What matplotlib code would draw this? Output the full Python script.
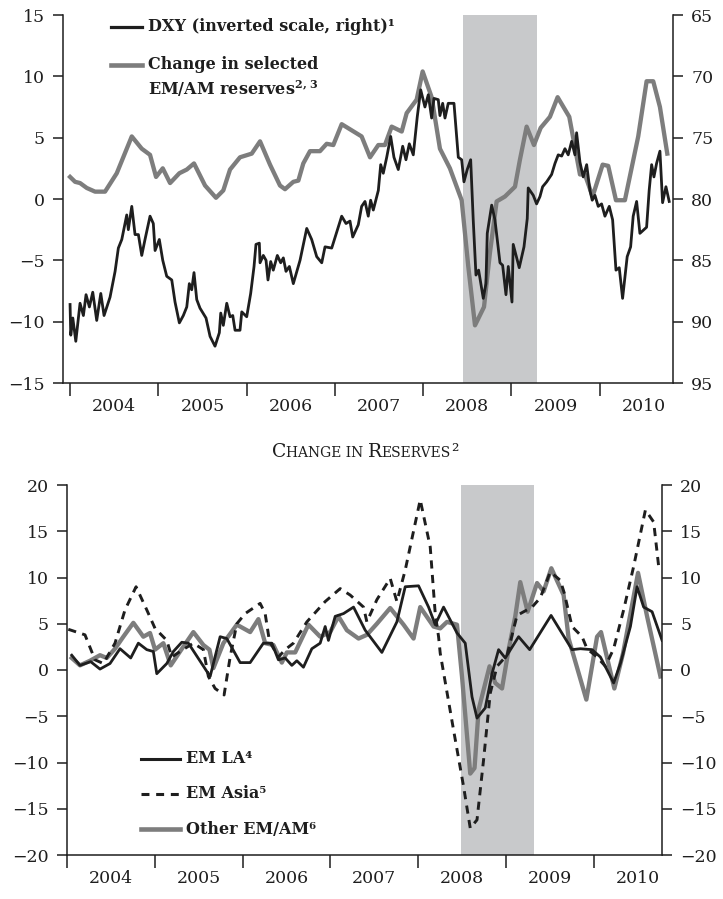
import numpy as np
import matplotlib
matplotlib.use("Agg")
import matplotlib.pyplot as plt
from matplotlib.lines import Line2D
from matplotlib.offsetbox import TextArea, HPacker, AnchoredOffsetbox

plt.rcParams['font.family'] = ['DejaVu Serif']
plt.rcParams['mathtext.fontset'] = 'dejavuserif'

INK = '#1e1e1e'
GREY = '#7d7d7d'
SHADE = '#c8c9cb'

# ---- top panel: DXY (weekly-ish) and change in selected EM/AM reserves
dxy_t = [2004.00, 2004.008, 2004.031, 2004.065, 2004.113, 2004.151, 2004.181, 2004.219,
         2004.257, 2004.302, 2004.348, 2004.385, 2004.453, 2004.510, 2004.547, 2004.586,
         2004.642, 2004.660, 2004.699, 2004.736, 2004.774, 2004.812, 2004.849, 2004.906,
         2004.943, 2004.963, 2005.011, 2005.050, 2005.095, 2005.152, 2005.189, 2005.238,
         2005.283, 2005.322, 2005.351, 2005.378, 2005.404, 2005.435, 2005.472, 2005.540,
         2005.586, 2005.642, 2005.691, 2005.707, 2005.736, 2005.775, 2005.812, 2005.843,
         2005.869, 2005.925, 2005.945, 2006.001, 2006.046, 2006.084, 2006.106, 2006.144,
         2006.152, 2006.189, 2006.220, 2006.242, 2006.273, 2006.302, 2006.348, 2006.386,
         2006.416, 2006.446, 2006.484, 2006.529, 2006.605, 2006.681, 2006.737, 2006.794,
         2006.851, 2006.888, 2006.964, 2007.020, 2007.077, 2007.126, 2007.171, 2007.202,
         2007.265, 2007.303, 2007.341, 2007.378, 2007.405, 2007.435, 2007.492, 2007.519,
         2007.548, 2007.587, 2007.632, 2007.669, 2007.718, 2007.768, 2007.805, 2007.843,
         2007.888, 2007.933, 2007.972, 2008.020, 2008.058, 2008.096, 2008.122, 2008.171,
         2008.190, 2008.221, 2008.247, 2008.284, 2008.349, 2008.398, 2008.436, 2008.462,
         2008.499, 2008.538, 2008.567, 2008.598, 2008.628, 2008.681, 2008.711, 2008.726,
         2008.776, 2008.813, 2008.870, 2008.900, 2008.938, 2008.964, 2009.006, 2009.020,
         2009.088, 2009.142, 2009.179, 2009.190, 2009.247, 2009.285, 2009.323, 2009.353,
         2009.399, 2009.455, 2009.493, 2009.530, 2009.569, 2009.606, 2009.643, 2009.682,
         2009.719, 2009.738, 2009.776, 2009.813, 2009.852, 2009.889, 2009.915, 2009.946,
         2009.983, 2010.021, 2010.059, 2010.108, 2010.146, 2010.184, 2010.221, 2010.259,
         2010.311, 2010.350, 2010.379, 2010.418, 2010.455, 2010.531, 2010.560, 2010.588,
         2010.614, 2010.644, 2010.682, 2010.712, 2010.750, 2010.787]
dxy = [88.6, 91.1, 89.7, 91.6, 88.5, 89.5, 87.8, 88.8,
       87.6, 89.9, 87.7, 89.5, 88.0, 85.9, 84.0, 83.3,
       81.3, 82.5, 80.6, 82.9, 82.9, 84.6, 83.3, 81.4,
       82.0, 84.2, 83.3, 85.0, 86.3, 86.6, 88.4, 90.1,
       89.5, 88.8, 86.9, 87.4, 86.0, 88.2, 88.9, 89.7,
       91.2, 92.0, 90.9, 89.3, 90.3, 88.5, 89.6, 89.5,
       90.7, 90.7, 89.2, 89.6, 87.7, 85.5, 83.7, 83.6,
       85.2, 84.6, 85.0, 86.6, 85.1, 85.8, 84.6, 85.2,
       84.8, 85.9, 85.5, 86.9, 85.0, 82.4, 83.3, 84.7,
       85.2, 83.9, 84.0, 82.7, 81.4, 82.0, 81.8, 83.1,
       82.1, 80.6, 80.2, 81.4, 80.1, 80.9, 79.3, 77.2,
       77.9, 76.6, 74.9, 76.6, 77.6, 75.7, 76.8, 75.5,
       76.4, 73.3, 71.1, 72.5, 71.5, 73.4, 71.8, 71.9,
       73.2, 72.2, 73.4, 72.2, 72.2, 76.6, 76.8, 78.6,
       77.6, 76.8, 81.7, 86.2, 85.8, 88.1, 86.9, 82.8,
       80.5, 81.7, 85.2, 85.4, 87.8, 85.5, 88.4, 83.7,
       85.6, 83.9, 81.6, 79.1, 79.7, 80.4, 79.8, 79.0,
       78.6, 78.0, 77.1, 76.4, 76.5, 75.9, 76.4, 75.3,
       76.4, 74.6, 77.0, 78.2, 77.2, 79.3, 80.1, 79.7,
       80.6, 80.4, 81.4, 80.6, 81.7, 85.8, 85.6, 88.1,
       84.7, 83.9, 81.4, 80.2, 82.8, 82.3, 79.3, 77.2,
       78.2, 77.1, 76.1, 80.3, 79.0, 80.2]

res_t = [2004.00, 2004.057, 2004.113, 2004.189, 2004.283, 2004.396, 2004.529, 2004.699,
         2004.812, 2004.906, 2004.974, 2005.050, 2005.133, 2005.238, 2005.322, 2005.404,
         2005.529, 2005.653, 2005.736, 2005.812, 2005.925, 2006.058, 2006.152, 2006.265,
         2006.378, 2006.435, 2006.529, 2006.586, 2006.642, 2006.718, 2006.831, 2006.907,
         2006.982, 2007.077, 2007.190, 2007.303, 2007.398, 2007.492, 2007.567, 2007.643,
         2007.757, 2007.813, 2007.926, 2007.994, 2008.096, 2008.190, 2008.303, 2008.436,
         2008.511, 2008.587, 2008.689, 2008.756, 2008.832, 2008.926, 2009.040, 2009.096,
         2009.172, 2009.255, 2009.331, 2009.436, 2009.523, 2009.655, 2009.776, 2009.832,
         2009.919, 2010.033, 2010.096, 2010.184, 2010.285, 2010.436, 2010.531, 2010.606,
         2010.682, 2010.765]
res_chg = [1.8, 1.4, 1.3, 0.9, 0.6, 0.6, 2.1, 5.1,
           4.1, 3.6, 1.8, 2.5, 1.3, 2.1, 2.4, 2.9,
           1.1, 0.1, 0.7, 2.4, 3.4, 3.7, 4.7, 2.8,
           1.1, 0.8, 1.4, 1.5, 2.9, 3.9, 3.9, 4.5,
           4.4, 6.1, 5.6, 5.1, 3.4, 4.4, 4.4, 5.9,
           5.5, 7.0, 8.1, 10.4, 8.3, 4.1, 2.5, -0.1,
           -5.5, -10.3, -8.8, -4.4, -0.2, 0.2, 1.0, 3.2,
           5.9, 4.4, 5.8, 6.7, 8.3, 6.7, 2.0, 2.0,
           0.2, 2.8, 2.7, -0.1, -0.1, 5.1, 9.6, 9.6,
           7.5, 3.7]

# ---- bottom panel: change in reserves by region
la_t = [2004.054, 2004.148, 2004.270, 2004.376, 2004.490, 2004.604, 2004.726, 2004.813,
        2004.909, 2004.984, 2005.023, 2005.137, 2005.212, 2005.308, 2005.383, 2005.631,
        2005.745, 2005.821, 2005.973, 2006.087, 2006.238, 2006.334, 2006.409, 2006.486,
        2006.562, 2006.619, 2006.694, 2006.790, 2006.885, 2006.942, 2006.979, 2007.056,
        2007.151, 2007.265, 2007.398, 2007.588, 2007.759, 2007.854, 2008.006, 2008.120,
        2008.196, 2008.291, 2008.444, 2008.538, 2008.615, 2008.672, 2008.766, 2008.843,
        2008.918, 2008.994, 2009.146, 2009.272, 2009.516, 2009.755, 2009.850, 2009.983,
        2010.078, 2010.154, 2010.229, 2010.306, 2010.420, 2010.496, 2010.571, 2010.667,
        2010.781]
em_la = [1.6, 0.5, 0.9, 0.1, 0.7, 2.3, 1.3, 2.9,
         2.2, 2.0, -0.4, 0.7, 2.0, 3.0, 2.9, -0.7,
         3.6, 3.4, 0.8, 0.8, 2.9, 2.9, 1.1, 1.3,
         0.5, 1.0, 0.3, 2.3, 2.9, 4.7, 3.2, 5.8,
         6.1, 6.8, 4.3, 1.9, 5.2, 9.0, 9.1, 6.8,
         4.9, 6.8, 4.0, 2.9, -2.9, -5.2, -4.1, -0.4,
         2.2, 1.3, 3.6, 2.2, 5.9, 2.2, 2.3, 2.2,
         1.4, 0.0, -1.4, 0.7, 4.7, 9.0, 6.8, 6.3,
         3.2]

asia_t = [2004.015, 2004.205, 2004.319, 2004.414, 2004.547, 2004.661, 2004.787, 2004.909,
          2005.003, 2005.137, 2005.194, 2005.288, 2005.440, 2005.554, 2005.611, 2005.688,
          2005.790, 2005.859, 2005.935, 2006.030, 2006.201, 2006.258, 2006.307, 2006.409,
          2006.486, 2006.580, 2006.733, 2006.942, 2007.113, 2007.227, 2007.379, 2007.417,
          2007.531, 2007.683, 2007.759, 2007.854, 2008.025, 2008.139, 2008.196, 2008.234,
          2008.253, 2008.405, 2008.519, 2008.595, 2008.672, 2008.747, 2008.823, 2008.900,
          2009.014, 2009.128, 2009.299, 2009.393, 2009.507, 2009.621, 2009.667, 2009.755,
          2009.869, 2009.926, 2010.040, 2010.135, 2010.229, 2010.343, 2010.457, 2010.591,
          2010.685, 2010.742]
em_asia = [4.4, 3.8, 1.1, 0.7, 2.9, 6.5, 9.0, 6.5,
           4.5, 3.2, 1.4, 2.0, 2.9, 2.2, -0.7, -2.0,
           -2.7, 1.4, 5.0, 6.1, 7.2, 6.1, 3.1, 1.4,
           2.2, 2.9, 5.2, 7.4, 8.8, 8.1, 6.8, 5.2,
           7.6, 9.9, 7.4, 10.8, 18.4, 13.3, 6.1, 3.6,
           1.8, -6.5, -12.6, -17.1, -16.2, -9.7, -2.5, 0.4,
           1.6, 5.9, 6.8, 7.8, 10.6, 9.7, 8.3, 4.7,
           3.6, 2.3, 1.4, 0.4, 2.3, 6.5, 11.2, 17.3,
           16.0, 11.2]

oth_t = [2004.054, 2004.148, 2004.262, 2004.376, 2004.453, 2004.547, 2004.642, 2004.756,
         2004.870, 2004.946, 2005.003, 2005.098, 2005.182, 2005.288, 2005.440, 2005.554,
         2005.623, 2005.668, 2005.782, 2005.935, 2006.087, 2006.181, 2006.258, 2006.352,
         2006.448, 2006.505, 2006.600, 2006.751, 2006.885, 2006.999, 2007.093, 2007.189,
         2007.322, 2007.417, 2007.531, 2007.683, 2007.835, 2007.949, 2008.025, 2008.177,
         2008.253, 2008.330, 2008.444, 2008.501, 2008.595, 2008.644, 2008.690, 2008.815,
         2008.880, 2008.957, 2009.032, 2009.108, 2009.165, 2009.249, 2009.356, 2009.431,
         2009.519, 2009.659, 2009.716, 2009.918, 2010.040, 2010.085, 2010.237, 2010.336,
         2010.507, 2010.610, 2010.762]
other_em = [1.3, 0.5, 1.0, 1.6, 1.3, 2.3, 3.6, 5.1,
            3.6, 4.0, 2.2, 2.9, 0.5, 2.0, 4.1, 2.7,
            2.2, 0.2, 2.9, 4.9, 4.1, 5.5, 2.9, 2.7,
            0.8, 1.9, 1.9, 4.9, 3.6, 4.1, 5.8, 4.3,
            3.4, 3.8, 5.0, 6.7, 4.9, 3.4, 6.8, 4.7,
            4.5, 5.2, 4.9, -0.7, -11.2, -10.6, -4.3, 0.4,
            -1.4, -2.0, 2.2, 5.8, 9.5, 6.3, 9.4, 8.5,
            11.0, 8.1, 3.4, -3.2, 3.6, 4.1, -2.0, 1.8,
            10.5, 5.8, -0.7]

years = [2004, 2005, 2006, 2007, 2008, 2009, 2010]
shade_top = (2008.45, 2009.29)
shade_bot = (2008.49, 2009.32)


def style_axes(ax, xlim, ylim, yticks):
    ax.set_xlim(*xlim)
    ax.set_ylim(*ylim)
    ax.spines['top'].set_visible(False)
    for s in ('left', 'right', 'bottom'):
        ax.spines[s].set_linewidth(1.1)
        ax.spines[s].set_color(INK)
    ax.set_xticks([y for y in years if xlim[0] <= y <= xlim[1]])
    ax.set_xticklabels([])
    ax.set_xticks([y + 0.5 for y in years], minor=True)
    ax.set_xticklabels([str(y) for y in years], minor=True)
    ax.tick_params(axis='x', which='major', length=9, width=1.1, color=INK, direction='out')
    ax.tick_params(axis='x', which='minor', length=0, pad=11, labelsize=12.5, labelcolor=INK)
    ax.set_yticks(yticks)
    ax.tick_params(axis='y', length=7, width=1.1, color=INK, pad=6, labelsize=12.5, labelcolor=INK)


fig = plt.figure(figsize=(7.23, 8.99), dpi=100)

# ---------------- top
ax1 = fig.add_axes([63 / 723, 1 - 383 / 899, 610 / 723, 368 / 899])
style_axes(ax1, (2003.92, 2010.83), (-15, 15), range(-15, 16, 5))
ax1.axvspan(*shade_top, color=SHADE, lw=0, zorder=0)
ax1.plot(res_t, res_chg, color=GREY, lw=3.1, zorder=2)

ax1r = ax1.twinx()
ax1r.set_ylim(95, 65)
ax1r.set_yticks(range(65, 96, 5))
ax1r.tick_params(axis='y', length=7, width=1.1, color=INK, pad=6, labelsize=12.5, labelcolor=INK)
for s in ax1r.spines.values():
    s.set_visible(False)
ax1r.plot(dxy_t, dxy, color=INK, lw=2.0, zorder=3)

# legend (top)
ax1.add_line(Line2D([0.078, 0.13], [0.968, 0.968], transform=ax1.transAxes, color=INK, lw=2.3))
ax1.add_line(Line2D([0.078, 0.13], [0.865, 0.865], transform=ax1.transAxes, color=GREY, lw=3.3))
ax1.text(0.139, 0.968, 'DXY (inverted scale, right)\u00b9', transform=ax1.transAxes,
         fontsize=11.5, fontweight='bold', color=INK, va='center', ha='left')
ax1.text(0.139, 0.865, 'Change in selected', transform=ax1.transAxes,
         fontsize=11.5, fontweight='bold', color=INK, va='center', ha='left')
ax1.text(0.139, 0.80, r'EM/AM reserves$^{\mathbf{2,\,3}}$', transform=ax1.transAxes,
         fontsize=11.5, fontweight='bold', color=INK, va='center', ha='left')

# ---------------- bottom
ax2 = fig.add_axes([67 / 723, 1 - 855 / 899, 595 / 723, 370 / 899])
style_axes(ax2, (2004.0, 2010.78), (-20, 20), range(-20, 21, 5))
ax2.tick_params(axis='y', which='both', right=True, labelright=True)
ax2.axvspan(*shade_bot, color=SHADE, lw=0, zorder=0)
ax2.plot(oth_t, other_em, color=GREY, lw=3.1, zorder=2, label='Other EM/AM\u2076')
ax2.plot(asia_t, em_asia, color=INK, lw=2.1, ls=(0, (2.8, 2.2)), zorder=3, label='EM Asia\u2075')
ax2.plot(la_t, em_la, color=INK, lw=2.0, zorder=4, label='EM LA\u2074')

leg_items = [('EM LA\u2074', dict(color=INK, lw=2.2)),
             ('EM Asia\u2075', dict(color=INK, lw=2.2, ls=(0, (2.6, 2.2)))),
             ('Other EM/AM\u2076', dict(color=GREY, lw=3.3))]
for i, (lab, kw) in enumerate(leg_items):
    yy = 0.26 - i * 0.095
    ax2.add_line(Line2D([0.125, 0.19], [yy, yy], transform=ax2.transAxes, **kw))
    ax2.text(0.2, yy, lab, transform=ax2.transAxes, fontsize=11.5, fontweight='bold',
             color=INK, va='center', ha='left')

# small-caps title for the bottom panel
big, small = 13.5, 10
pieces = [('C', big), ('HANGE IN ', small), ('R', big), ('ESERVES', small), ('\u00b2', big)]
boxes = [TextArea(s, textprops=dict(fontsize=fs, color=INK)) for s, fs in pieces]
pack = HPacker(children=boxes, align='baseline', pad=0, sep=0)
anch = AnchoredOffsetbox(loc='center', child=pack, frameon=False, pad=0, borderpad=0,
                         bbox_to_anchor=(365 / 723, 1 - 452 / 899), bbox_transform=fig.transFigure)
fig.add_artist(anch)

fig.savefig('out.png', dpi=100)
